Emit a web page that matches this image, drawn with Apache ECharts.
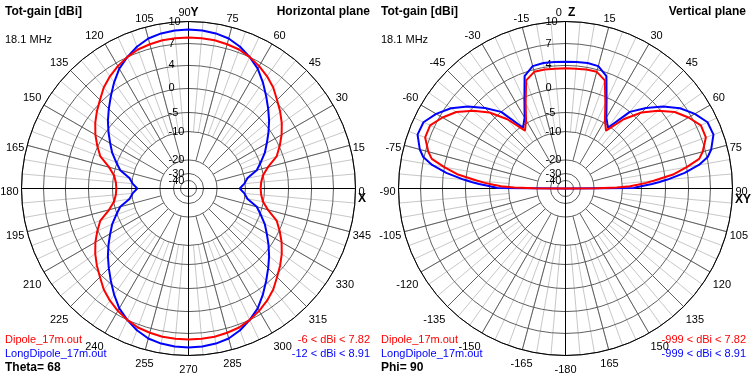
<!DOCTYPE html>
<html>
<head>
<meta charset="utf-8">
<script src="https://cdn.jsdelivr.net/npm/echarts@6.0.0/dist/echarts.min.js"></script>
<style>
  html, body { margin: 0; padding: 0; background: #fff; }
  #chart { width: 752px; height: 376px; }
</style>
</head>
<body>
<div id="chart"></div>
<script>
// horizontal plane, theta = 68, azimuth in degrees
const hAngles = [0, 5, 10, 15, 20, 25, 30, 35, 40, 45, 50, 55, 60, 65, 70, 75, 80, 85, 90,
  95, 100, 105, 110, 115, 120, 125, 130, 135, 140, 145, 150, 155, 160, 165, 170, 175,
  180, 185, 190, 195, 200, 205, 210, 215, 220, 225, 230, 235, 240, 245, 250, 255, 260, 265, 270,
  275, 280, 285, 290, 295, 300, 305, 310, 315, 320, 325, 330, 335, 340, 345, 350, 355, 360]
const hDipole = [-6.0, -5.8, -5.1, -3.7, -1.3, 0.1, 1.3, 2.4, 3.4, 4.3, 5.2, 5.9, 6.5, 7.0, 7.4, 7.6, 7.75, 7.8, 7.82,
  7.8, 7.75, 7.6, 7.4, 7.0, 6.5, 5.9, 5.2, 4.3, 3.4, 2.4, 1.3, 0.1, -1.3, -3.7, -5.1, -5.8,
  -6.0, -5.8, -5.1, -3.7, -1.3, 0.1, 1.3, 2.4, 3.4, 4.3, 5.2, 5.9, 6.5, 7.0, 7.4, 7.6, 7.75, 7.8, 7.82,
  7.8, 7.75, 7.6, 7.4, 7.0, 6.5, 5.9, 5.2, 4.3, 3.4, 2.4, 1.3, 0.1, -1.3, -3.7, -5.1, -5.8, -6.0]
const hLongDipole = [-12.0, -10.3, -9.2, -6.4, -4.8, -3.3, -2.0, -0.5, 0.9, 2.2, 3.6, 4.9, 6.1, 7.0, 7.8, 8.4, 8.7, 8.85, 8.91,
  8.85, 8.7, 8.4, 7.8, 7.0, 6.1, 4.9, 3.6, 2.2, 0.9, -0.5, -2.0, -3.3, -4.8, -6.4, -9.2, -10.3,
  -12.0, -10.3, -9.2, -6.4, -4.8, -3.3, -2.0, -0.5, 0.9, 2.2, 3.6, 4.9, 6.1, 7.0, 7.8, 8.4, 8.7, 8.85, 8.91,
  8.85, 8.7, 8.4, 7.8, 7.0, 6.1, 4.9, 3.6, 2.2, 0.9, -0.5, -2.0, -3.3, -4.8, -6.4, -9.2, -10.3, -12.0]

// vertical plane, phi = 90, angle from zenith (ground below the horizon)
const vAngles = [-90, -89.5, -89, -88, -87, -86, -85, -82.5, -80, -77.5, -75, -70, -65, -60, -55, -50, -45, -40, -35, -30, -25, -20, -15, -10, -5,
  0, 5, 10, 15, 20, 25, 30, 35, 40, 45, 50, 55, 60, 65, 70, 75, 77.5, 80, 82.5, 85, 86, 87, 88, 89, 89.5, 90]
const vDipole = [-999, -19, -12, -8.0, -6.0, -4.0, -2.4, 1.6, 4.0, 5.9, 6.6, 7.6, 7.6, 6.6, 5.4, 3.6, 1.3, -2.0, -6.4, -4.4, -1.2, 2.6, 3.6, 3.6, 3.5,
  3.5, 3.5, 3.6, 3.6, 2.6, -1.2, -4.4, -6.4, -2.0, 1.3, 3.6, 5.4, 6.6, 7.6, 7.6, 6.6, 5.9, 4.0, 1.6, -2.4, -4.0, -6.0, -8.0, -12, -19, -999]
const vLongDipole = [-999, -7.0, -6.3, -4.6, -2.8, -1.2, 0.4, 3.5, 5.7, 7.1, 7.8, 8.7, 8.6, 7.6, 6.3, 4.6, 2.4, 0.0, -5.5, -3.8, -0.6, 3.4, 4.5, 4.6, 4.55,
  4.5, 4.55, 4.6, 4.5, 3.4, -0.6, -3.8, -5.5, 0.0, 2.4, 4.6, 6.3, 7.6, 8.6, 8.7, 7.8, 7.1, 5.7, 3.5, 0.4, -1.2, -2.8, -4.6, -6.3, -7.0, -999]

// gain rings of the log scale, and where they sit (fraction of the outer radius)
const ringDb = [10, 7, 4, 0, -5, -10, -20, -30, -40]
const ringPos = [1, 0.868, 0.737, 0.599, 0.455, 0.341, 0.171, 0.09, 0.048]

const R = 167
const FONT = 'Liberation Sans, Arial, sans-serif'
const RED = '#ff0000'
const BLUE = '#0000ff'

// dBi -> radius on the 0..1 radius axis
function gainToRadius(db) {
  if (db >= ringDb[0]) return 1
  for (let i = 1; i < ringDb.length; i++) {
    if (db >= ringDb[i]) {
      const t = (db - ringDb[i]) / (ringDb[i - 1] - ringDb[i])
      return ringPos[i] + t * (ringPos[i - 1] - ringPos[i])
    }
  }
  return 0
}

function ringLabel(v) {
  let best = 0
  ringPos.forEach((p, i) => {
    if (Math.abs(p - v) < Math.abs(ringPos[best] - v)) best = i
  })
  return String(ringDb[best])
}

const hidden = { show: false }
const plainRadius = { min: 0, max: 1, axisLine: hidden, axisTick: hidden, axisLabel: hidden, splitLine: hidden }
const ringLabelStyle = {
  formatter: ringLabel, margin: 20, align: 'left', verticalAlign: 'middle',
  padding: [4, 0, 0, 0], color: '#000', fontSize: 11, fontFamily: FONT,
  hideOverlap: false, showMinLabel: true, showMaxLabel: true
}

function buildPanel(opt, center, angleCfg, labelFmt) {
  const add = (polar, angle, radius) => {
    const i = opt.polar.length
    opt.polar.push(Object.assign({ center }, polar))
    opt.angleAxis.push(Object.assign({ polarIndex: i }, angle))
    opt.radiusAxis.push(Object.assign({ polarIndex: i }, radius))
    return i
  }
  // minor spokes, every 5 deg, from the -10 ring outwards
  add({ radius: [R * ringPos[5], R] }, Object.assign({ interval: 5, z: 0,
    axisLine: hidden, axisTick: hidden, axisLabel: hidden,
    splitLine: { show: true, lineStyle: { color: '#c8c8c8', width: 1 } } }, angleCfg), plainRadius)
  // major spokes, every 15 deg, from the -20 ring outwards
  add({ radius: [R * ringPos[6], R] }, Object.assign({ interval: 15, z: 1,
    axisLine: hidden, axisTick: hidden, axisLabel: hidden,
    splitLine: { show: true, lineStyle: { color: '#606060', width: 1 } } }, angleCfg), plainRadius)
  // gain rings, labelled up the vertical (the -30 label sits on its own axis so it is not dropped)
  const labelled = ringPos.filter((p, i) => ringDb[i] !== -30)
  add({ radius: [0, R] }, { startAngle: 90, min: 0, max: 360, show: false }, {
    min: 0, max: 1, z: 1,
    axisLine: hidden,
    axisTick: { show: false, customValues: ringPos },
    axisLabel: Object.assign({ customValues: labelled }, ringLabelStyle),
    splitLine: { show: true, lineStyle: { color: '#606060', width: 1 } }
  })
  const alone = ringPos.filter((p, i) => ringDb[i] === -30)
  add({ radius: [0, R] }, { startAngle: 90, min: 0, max: 360, show: false }, {
    min: 0, max: 1, z: 1,
    axisLine: hidden, splitLine: hidden,
    axisTick: { show: false, customValues: alone },
    axisLabel: Object.assign({ customValues: alone }, ringLabelStyle)
  })
  // black cross
  add({ radius: [0, R] }, Object.assign({ interval: 90, z: 2,
    axisLine: hidden, axisTick: hidden, axisLabel: hidden,
    splitLine: { show: true, lineStyle: { color: '#000', width: 1 } } }, angleCfg), plainRadius)
  // outer circle, angle labels, and the data
  return add({ radius: [0, R] }, Object.assign({ interval: 15, z: 3,
    axisLine: { show: true, lineStyle: { color: '#000', width: 1 } },
    axisTick: hidden, splitLine: hidden,
    axisLabel: {
      show: true, margin: 3, padding: [6, 0, 0, 0],
      color: '#000', fontSize: 11, fontFamily: FONT, formatter: labelFmt,
      rich: { b: { fontSize: 12, fontWeight: 'bold', fontFamily: FONT, color: '#000' } }
    } }, angleCfg), plainRadius)
}

function text(str, x, y, color, bold, align) {
  return {
    type: 'text', x, y, z: 10,
    style: {
      text: str, fill: color, textAlign: align || 'left', textVerticalAlign: 'middle',
      font: (bold ? 'bold 12px ' : '11px ') + FONT
    }
  }
}

const option = { animation: false, backgroundColor: '#fff', polar: [], angleAxis: [], radiusAxis: [], series: [] }

const leftPolar = buildPanel(option, [188.5, 188.5],
  { startAngle: 0, clockwise: false, min: 0, max: 360 },
  v => (v === 90 ? '90{b|Y}' : v === 360 ? '' : String(v)))
const rightPolar = buildPanel(option, [565.5, 188.5],
  { startAngle: 270, clockwise: true, min: -180, max: 180 },
  v => (v === 0 ? '0  {b|Z}' : v === 180 ? '' : String(v)))

function line(polarIndex, angles, gains, color) {
  return {
    type: 'line', coordinateSystem: 'polar', polarIndex, z: 5,
    showSymbol: false, smooth: false, silent: true,
    lineStyle: { color, width: 2 },
    data: angles.map((a, i) => [gainToRadius(gains[i]), a])
  }
}

option.series.push(line(leftPolar, hAngles, hLongDipole, BLUE))
option.series.push(line(leftPolar, hAngles, hDipole, RED))
option.series.push(line(rightPolar, vAngles, vLongDipole, BLUE))
option.series.push(line(rightPolar, vAngles, vDipole, RED))

option.graphic = [
  text('Tot-gain [dBi]', 5, 12, '#000', true),
  text('18.1 MHz', 5, 40, '#000'),
  text('Horizontal plane', 370, 12, '#000', true, 'right'),
  text('X', 358, 199, '#000', true),
  text('Dipole_17m.out', 5, 340, RED),
  text('LongDipole_17m.out', 5, 354, BLUE),
  text('Theta= 68', 5, 368, '#000', true),
  text('-6 < dBi < 7.82', 370, 340, RED, false, 'right'),
  text('-12 < dBi < 8.91', 370, 354, BLUE, false, 'right'),
  text('Tot-gain [dBi]', 381, 12, '#000', true),
  text('18.1 MHz', 381, 40, '#000'),
  text('Vertical plane', 746, 12, '#000', true, 'right'),
  text('XY', 735, 200, '#000', true),
  text('Dipole_17m.out', 381, 340, RED),
  text('LongDipole_17m.out', 381, 354, BLUE),
  text('Phi= 90', 381, 368, '#000', true),
  text('-999 < dBi < 7.82', 746, 340, RED, false, 'right'),
  text('-999 < dBi < 8.91', 746, 354, BLUE, false, 'right')
]

const chart = echarts.init(document.getElementById('chart'))
chart.setOption(option)
</script>
</body>
</html>
